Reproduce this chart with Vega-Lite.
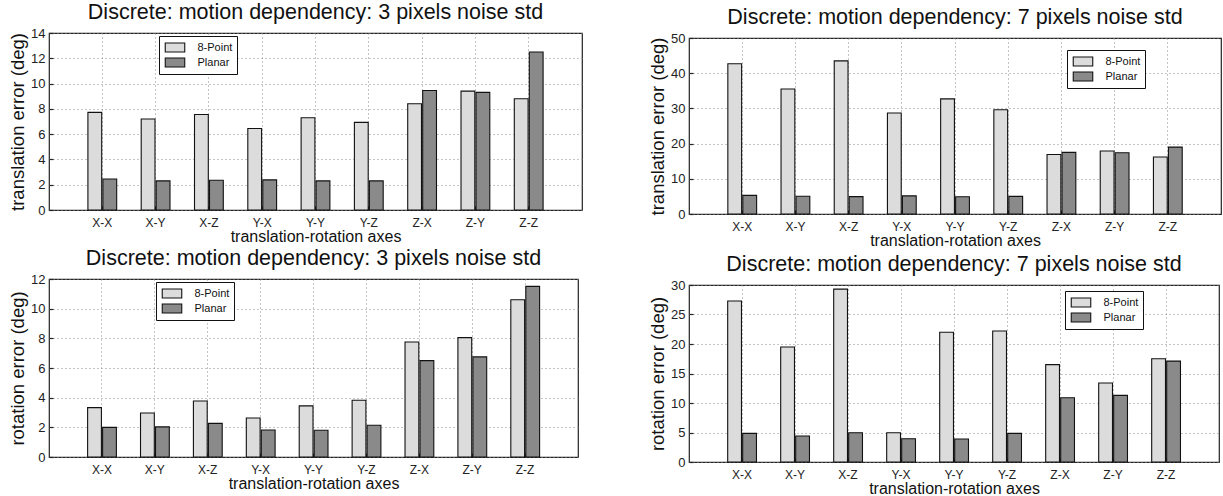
{
  "$schema": "https://vega.github.io/schema/vega-lite/v6.json",
  "background": "white",
  "padding": {"left": 7, "top": 0, "right": 0, "bottom": 0},
  "config": {
    "font": "Liberation Sans",
    "view": {"stroke": "#222", "strokeWidth": 1.2},
    "axis": {
      "labelFont": "Liberation Sans",
      "titleFont": "Liberation Sans",
      "labelColor": "#222",
      "titleColor": "#111",
      "titleFontWeight": "normal",
      "domain": false,
      "ticks": true,
      "tickSize": -4,
      "tickColor": "#222",
      "tickWidth": 1.2,
      "grid": true,
      "gridColor": "#8a8a8a",
      "gridDash": [1, 3],
      "gridWidth": 1
    },
    "axisX": {"labelAngle": 0, "labelFontSize": 12, "labelPadding": 11, "titleFontSize": 16, "titlePadding": 0, "bandPosition": 0.5},
    "axisY": {"labelFontSize": 13, "labelPadding": 8, "titleFontSize": 18.5, "titlePadding": 3},
    "title": {"font": "Liberation Sans", "fontSize": 21.5, "fontWeight": "normal", "color": "#111", "offset": 4, "anchor": "middle", "frame": "group"},
    "legend": {
      "orient": "none",
      "title": null,
      "padding": 4,
      "rowPadding": 0,
      "strokeColor": "#111",
      "fillColor": "white",
      "labelFont": "Liberation Sans",
      "labelFontSize": 11,
      "labelColor": "#111",
      "labelOffset": 15,
      "labelExpr": "datum.label + '  '",
      "symbolType": "M-1.5,-0.7H1.5V0.7H-1.5Z",
      "symbolSize": 169,
      "symbolOffset": 4.5,
      "symbolStrokeColor": "#111",
      "symbolStrokeWidth": 1
    },
    "bar": {"stroke": "#111", "strokeWidth": 1.1}
  },
  "datasets": {
    "tl": [
      {"axes": "X-X", "method": "8-Point", "value": 7.72}, {"axes": "X-X", "method": "Planar", "value": 2.45},
      {"axes": "X-Y", "method": "8-Point", "value": 7.2}, {"axes": "X-Y", "method": "Planar", "value": 2.3},
      {"axes": "X-Z", "method": "8-Point", "value": 7.55}, {"axes": "X-Z", "method": "Planar", "value": 2.35},
      {"axes": "Y-X", "method": "8-Point", "value": 6.45}, {"axes": "Y-X", "method": "Planar", "value": 2.38},
      {"axes": "Y-Y", "method": "8-Point", "value": 7.3}, {"axes": "Y-Y", "method": "Planar", "value": 2.3},
      {"axes": "Y-Z", "method": "8-Point", "value": 6.93}, {"axes": "Y-Z", "method": "Planar", "value": 2.3},
      {"axes": "Z-X", "method": "8-Point", "value": 8.4}, {"axes": "Z-X", "method": "Planar", "value": 9.45},
      {"axes": "Z-Y", "method": "8-Point", "value": 9.4}, {"axes": "Z-Y", "method": "Planar", "value": 9.3},
      {"axes": "Z-Z", "method": "8-Point", "value": 8.8}, {"axes": "Z-Z", "method": "Planar", "value": 12.5}
    ],
    "tr": [
      {"axes": "X-X", "method": "8-Point", "value": 42.7}, {"axes": "X-X", "method": "Planar", "value": 5.3},
      {"axes": "X-Y", "method": "8-Point", "value": 35.5}, {"axes": "X-Y", "method": "Planar", "value": 5.05},
      {"axes": "X-Z", "method": "8-Point", "value": 43.5}, {"axes": "X-Z", "method": "Planar", "value": 4.95},
      {"axes": "Y-X", "method": "8-Point", "value": 28.7}, {"axes": "Y-X", "method": "Planar", "value": 5.15},
      {"axes": "Y-Y", "method": "8-Point", "value": 32.7}, {"axes": "Y-Y", "method": "Planar", "value": 4.9},
      {"axes": "Y-Z", "method": "8-Point", "value": 29.6}, {"axes": "Y-Z", "method": "Planar", "value": 5.0},
      {"axes": "Z-X", "method": "8-Point", "value": 16.9}, {"axes": "Z-X", "method": "Planar", "value": 17.5},
      {"axes": "Z-Y", "method": "8-Point", "value": 17.9}, {"axes": "Z-Y", "method": "Planar", "value": 17.4},
      {"axes": "Z-Z", "method": "8-Point", "value": 16.2}, {"axes": "Z-Z", "method": "Planar", "value": 19.0}
    ],
    "bl": [
      {"axes": "X-X", "method": "8-Point", "value": 3.33}, {"axes": "X-X", "method": "Planar", "value": 2.0},
      {"axes": "X-Y", "method": "8-Point", "value": 2.97}, {"axes": "X-Y", "method": "Planar", "value": 2.03},
      {"axes": "X-Z", "method": "8-Point", "value": 3.78}, {"axes": "X-Z", "method": "Planar", "value": 2.27},
      {"axes": "Y-X", "method": "8-Point", "value": 2.63}, {"axes": "Y-X", "method": "Planar", "value": 1.82},
      {"axes": "Y-Y", "method": "8-Point", "value": 3.45}, {"axes": "Y-Y", "method": "Planar", "value": 1.8},
      {"axes": "Y-Z", "method": "8-Point", "value": 3.83}, {"axes": "Y-Z", "method": "Planar", "value": 2.14},
      {"axes": "Z-X", "method": "8-Point", "value": 7.75}, {"axes": "Z-X", "method": "Planar", "value": 6.5},
      {"axes": "Z-Y", "method": "8-Point", "value": 8.05}, {"axes": "Z-Y", "method": "Planar", "value": 6.75},
      {"axes": "Z-Z", "method": "8-Point", "value": 10.6}, {"axes": "Z-Z", "method": "Planar", "value": 11.5}
    ],
    "br": [
      {"axes": "X-X", "method": "8-Point", "value": 27.3}, {"axes": "X-X", "method": "Planar", "value": 4.86},
      {"axes": "X-Y", "method": "8-Point", "value": 19.5}, {"axes": "X-Y", "method": "Planar", "value": 4.4},
      {"axes": "X-Z", "method": "8-Point", "value": 29.3}, {"axes": "X-Z", "method": "Planar", "value": 4.97},
      {"axes": "Y-X", "method": "8-Point", "value": 4.97}, {"axes": "Y-X", "method": "Planar", "value": 3.95},
      {"axes": "Y-Y", "method": "8-Point", "value": 22.0}, {"axes": "Y-Y", "method": "Planar", "value": 3.9},
      {"axes": "Y-Z", "method": "8-Point", "value": 22.2}, {"axes": "Y-Z", "method": "Planar", "value": 4.86},
      {"axes": "Z-X", "method": "8-Point", "value": 16.5}, {"axes": "Z-X", "method": "Planar", "value": 10.9},
      {"axes": "Z-Y", "method": "8-Point", "value": 13.4}, {"axes": "Z-Y", "method": "Planar", "value": 11.3},
      {"axes": "Z-Z", "method": "8-Point", "value": 17.5}, {"axes": "Z-Z", "method": "Planar", "value": 17.1}
    ]
  },
  "spacing": 64,
  "resolve": {"scale": {"fill": "independent"}, "legend": {"fill": "independent"}},
  "hconcat": [
    {
      "spacing": 0,
      "bounds": "flush",
      "resolve": {"scale": {"fill": "independent"}, "legend": {"fill": "independent"}},
      "vconcat": [
        {
          "data": {"values": [{"a": 1}]},
          "width": 533,
          "height": 32,
          "view": {"stroke": null},
          "mark": {"type": "text", "text": ""},
          "encoding": {}
        },
        {
          "spacing": 69,
          "bounds": "flush",
          "resolve": {"scale": {"fill": "independent"}, "legend": {"fill": "independent"}},
          "vconcat": [
            {
              "data": {"name": "tl"},
              "width": 533,
              "height": 177,
              "title": "Discrete: motion dependency: 3 pixels noise std",
              "mark": "bar",
              "encoding": {
                "x": {"field": "axes", "type": "nominal", "sort": null, "scale": {"paddingInner": 0.46, "paddingOuter": 0.73}, "axis": {"title": "translation-rotation axes"}},
                "xOffset": {"field": "method", "type": "nominal", "sort": ["8-Point", "Planar"], "scale": {"paddingInner": 0.08}},
                "y": {"field": "value", "type": "quantitative", "scale": {"domain": [0, 14], "nice": false}, "axis": {"title": "translation error (deg)", "values": [0, 2, 4, 6, 8, 10, 12, 14]}},
                "fill": {"field": "method", "type": "nominal", "scale": {"domain": ["8-Point", "Planar"], "range": ["#dcdcdc", "#8a8a8a"]}, "legend": {"legendX": 110, "legendY": 3}}
              }
            },
            {
              "data": {"name": "bl"},
              "width": 529,
              "height": 178,
              "title": "Discrete: motion dependency: 3 pixels noise std",
              "mark": "bar",
              "encoding": {
                "x": {"field": "axes", "type": "nominal", "sort": null, "scale": {"paddingInner": 0.46, "paddingOuter": 0.73}, "axis": {"title": "translation-rotation axes"}},
                "xOffset": {"field": "method", "type": "nominal", "sort": ["8-Point", "Planar"], "scale": {"paddingInner": 0.08}},
                "y": {"field": "value", "type": "quantitative", "scale": {"domain": [0, 12], "nice": false}, "axis": {"title": "rotation error (deg)", "values": [0, 2, 4, 6, 8, 10, 12]}},
                "fill": {"field": "method", "type": "nominal", "scale": {"domain": ["8-Point", "Planar"], "range": ["#dcdcdc", "#8a8a8a"]}, "legend": {"legendX": 107, "legendY": 3}}
              }
            }
          ]
        }
      ]
    },
    {
      "spacing": 0,
      "bounds": "flush",
      "resolve": {"scale": {"fill": "independent"}, "legend": {"fill": "independent"}},
      "vconcat": [
        {
          "data": {"values": [{"a": 1}]},
          "width": 532,
          "height": 37,
          "view": {"stroke": null},
          "mark": {"type": "text", "text": ""},
          "encoding": {}
        },
        {
          "spacing": 71,
          "bounds": "flush",
          "resolve": {"scale": {"fill": "independent"}, "legend": {"fill": "independent"}},
          "vconcat": [
            {
              "data": {"name": "tr"},
              "width": 532,
              "height": 176,
              "title": "Discrete: motion dependency: 7 pixels noise std",
              "mark": "bar",
              "encoding": {
                "x": {"field": "axes", "type": "nominal", "sort": null, "scale": {"paddingInner": 0.46, "paddingOuter": 0.73}, "axis": {"title": "translation-rotation axes"}},
                "xOffset": {"field": "method", "type": "nominal", "sort": ["8-Point", "Planar"], "scale": {"paddingInner": 0.08}},
                "y": {"field": "value", "type": "quantitative", "scale": {"domain": [0, 50], "nice": false}, "axis": {"title": "translation error (deg)", "values": [0, 10, 20, 30, 40, 50]}},
                "fill": {"field": "method", "type": "nominal", "scale": {"domain": ["8-Point", "Planar"], "range": ["#dcdcdc", "#8a8a8a"]}, "legend": {"legendX": 378, "legendY": 12}}
              }
            },
            {
              "data": {"name": "br"},
              "width": 530,
              "height": 177,
              "title": "Discrete: motion dependency: 7 pixels noise std",
              "mark": "bar",
              "encoding": {
                "x": {"field": "axes", "type": "nominal", "sort": null, "scale": {"paddingInner": 0.46, "paddingOuter": 0.73}, "axis": {"title": "translation-rotation axes"}},
                "xOffset": {"field": "method", "type": "nominal", "sort": ["8-Point", "Planar"], "scale": {"paddingInner": 0.08}},
                "y": {"field": "value", "type": "quantitative", "scale": {"domain": [0, 30], "nice": false}, "axis": {"title": "rotation error (deg)", "values": [0, 5, 10, 15, 20, 25, 30]}},
                "fill": {"field": "method", "type": "nominal", "scale": {"domain": ["8-Point", "Planar"], "range": ["#dcdcdc", "#8a8a8a"]}, "legend": {"legendX": 376, "legendY": 6}}
              }
            }
          ]
        }
      ]
    }
  ]
}
